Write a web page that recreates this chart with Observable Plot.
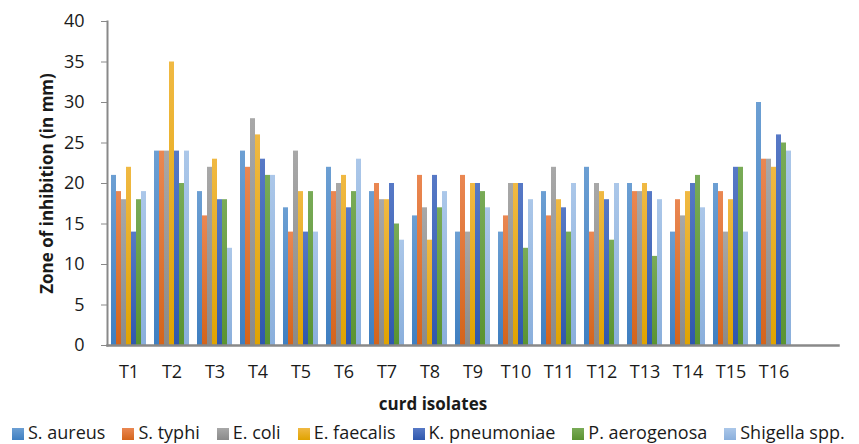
<!DOCTYPE html>
<html><head><meta charset="utf-8">
<script src="https://cdn.jsdelivr.net/npm/d3@7"></script>
<script src="https://cdn.jsdelivr.net/npm/@observablehq/plot@0.6"></script>
<style>
body{margin:0;background:#fff;font-family:"Open Sans",sans-serif;}
#chart svg{display:block;}
#legend{display:flex;align-items:center;height:23px;padding-left:12px;font-size:18px;line-height:23px;color:#1a1a1a;white-space:nowrap;}
#legend .item{display:flex;align-items:center;margin-right:17px;}
#legend .sw{width:12px;height:12px;margin-right:4px;margin-top:2px;}
</style></head><body>
<div id="chart"></div>
<div id="legend"></div>
<script>
const isolates = ["T1","T2","T3","T4","T5","T6","T7","T8","T9","T10","T11","T12","T13","T14","T15","T16"];
const series = ["S. aureus","S. typhi","E. coli","E. faecalis","K. pneumoniae","P. aerogenosa","Shigella spp."];
const sAureus     = [21,24,19,24,17,22,19,16,14,14,19,22,20,14,20,30];
const sTyphi      = [19,24,16,22,14,19,20,21,21,16,16,14,19,18,19,23];
const eColi       = [18,24,22,28,24,20,18,17,14,20,22,20,19,16,14,23];
const eFaecalis   = [22,35,23,26,19,21,18,13,20,20,18,19,20,19,18,22];
const kPneumoniae = [14,24,18,23,14,17,20,21,20,20,17,18,19,20,22,26];
const pAerogenosa = [18,20,18,21,19,19,15,17,19,12,14,13,11,21,22,25];
const shigella    = [19,24,12,21,14,23,13,19,17,18,20,20,18,17,14,24];

const seriesValues = [sAureus, sTyphi, eColi, eFaecalis, kPneumoniae, pAerogenosa, shigella];
const topColors    = ["#6c9fd3","#ea8752","#a8a8a8","#f0b943","#5779c6","#79ab57","#abc7e9"];
const bottomColors = ["#3f7fc1","#d4641b","#8a8a8a","#e0a300","#2f57ad","#5a9331","#8aafdc"];

const rows = [];
isolates.forEach((iso, j) => {
  series.forEach((s, i) => rows.push({isolate: iso, series: s, value: seriesValues[i][j]}));
});

const plot = Plot.plot({
  width: 859, height: 421,
  marginLeft: 104, marginRight: 19, marginTop: 21, marginBottom: 76,
  style: {fontFamily: "Open Sans", fontSize: "18px", color: "#1a1a1a", background: "white"},
  fx: {domain: [...isolates, ""], paddingInner: 0, paddingOuter: 0, label: null},
  x: {domain: series, paddingInner: 0, paddingOuter: 0.58, axis: null},
  y: {domain: [0, 40], label: null},
  color: {domain: series, range: series.map((_, i) => `url(#grad${i})`)},
  marks: [
    Plot.barY(rows, {fx: "isolate", x: "series", y: "value", fill: "series", inset: 0}),
    Plot.axisY({ticks: d3.range(0, 41, 5), tickSize: 6, tickPadding: 17, stroke: "#898989", label: null}),
    Plot.axisFx({anchor: "bottom", tickSize: 0, tickPadding: 20, label: null}),
    Plot.frame({anchor: "left", facet: "super", stroke: "#898989", strokeWidth: 2}),
    Plot.frame({anchor: "bottom", facet: "super", stroke: "#898989", strokeWidth: 2.5}),
    Plot.text(["Zone of inhibition (in mm)"], {frameAnchor: "left", textAnchor: "middle", dx: -60, rotate: -90, facet: "super", fontWeight: "bold", fontSize: 17}),
    Plot.text(["curd isolates"], {frameAnchor: "bottom", textAnchor: "middle", dx: -40, dy: 64, facet: "super", fontWeight: "bold", fontSize: 17})
  ]
});

const ns = "http://www.w3.org/2000/svg";
const defs = document.createElementNS(ns, "defs");
series.forEach((s, i) => {
  const lg = document.createElementNS(ns, "linearGradient");
  lg.setAttribute("id", `grad${i}`);
  lg.setAttribute("x1", "0"); lg.setAttribute("y1", "0");
  lg.setAttribute("x2", "0"); lg.setAttribute("y2", "1");
  [[0, topColors[i]], [1, bottomColors[i]]].forEach(([o, c]) => {
    const st = document.createElementNS(ns, "stop");
    st.setAttribute("offset", o);
    st.setAttribute("stop-color", c);
    lg.appendChild(st);
  });
  defs.appendChild(lg);
});
plot.insertBefore(defs, plot.firstChild);
document.getElementById("chart").appendChild(plot);

const legend = document.getElementById("legend");
series.forEach((s, i) => {
  const item = document.createElement("div");
  item.className = "item";
  const sw = document.createElement("div");
  sw.className = "sw";
  sw.style.background = `linear-gradient(${topColors[i]}, ${bottomColors[i]})`;
  const t = document.createElement("span");
  t.textContent = s;
  item.appendChild(sw); item.appendChild(t);
  legend.appendChild(item);
});
</script>
</body></html>
